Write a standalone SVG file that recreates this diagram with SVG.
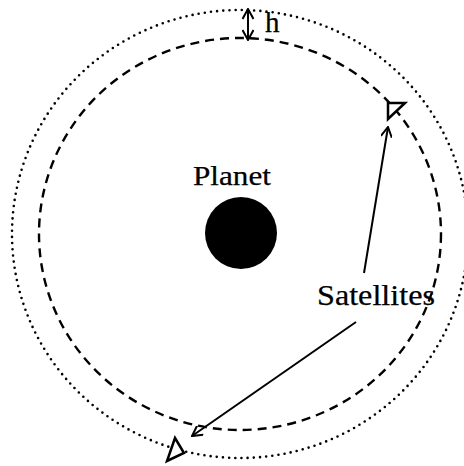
<svg xmlns="http://www.w3.org/2000/svg" width="464" height="466" viewBox="0 0 464 466">
<style>
.txt{font-family:"Liberation Serif","Times New Roman",serif;fill:#000;stroke:#000;stroke-width:0.25}
.ln{stroke:#000;stroke-width:2;fill:none}
.sat{stroke:#000;stroke-width:2.5;fill:#fff;stroke-linejoin:miter}
</style>
<defs>
<marker id="open" viewBox="0 0 12 12" refX="11" refY="6" markerWidth="12" markerHeight="12" markerUnits="userSpaceOnUse" orient="auto-start-reverse">
<path d="M1,0.5 L11,6 L1,11.5" fill="none" stroke="#000" stroke-width="2"/>
</marker>
</defs>
<rect width="464" height="466" fill="#fff"/>
<g id="orbit-outer">
<ellipse cx="240" cy="234" rx="228" ry="224" fill="none" stroke="#000" stroke-width="2.6" stroke-dasharray="0 6.2" stroke-linecap="round"/>
</g>
<g id="orbit-inner">
<ellipse cx="240" cy="234" rx="201" ry="196" fill="none" stroke="#000" stroke-width="2.4" stroke-dasharray="9 6"/>
</g>
<g id="planet">
<circle cx="241" cy="233" r="36" fill="#000"/>
<text class="txt" x="193" y="185" font-size="28" textLength="78" lengthAdjust="spacingAndGlyphs">Planet</text>
</g>
<g id="satellite-1">
<polygon class="sat" points="388,103 405,103 388,119"/>
</g>
<g id="satellite-2">
<polygon class="sat" points="175,438 184,453 167,461"/>
</g>
<g id="height-label">
<text class="txt" x="265" y="32" font-size="29">h</text>
</g>
<g id="satellites-label">
<text class="txt" x="317" y="305" font-size="29" textLength="118" lengthAdjust="spacingAndGlyphs">Satellites</text>
</g>
<g id="connectors">
<line class="ln" x1="248" y1="9" x2="248" y2="40" marker-start="url(#open)" marker-end="url(#open)"/>
<line class="ln" x1="364" y1="273" x2="388" y2="127" marker-end="url(#open)"/>
<line class="ln" x1="356" y1="322" x2="192" y2="436" marker-end="url(#open)"/>
</g>
</svg>
